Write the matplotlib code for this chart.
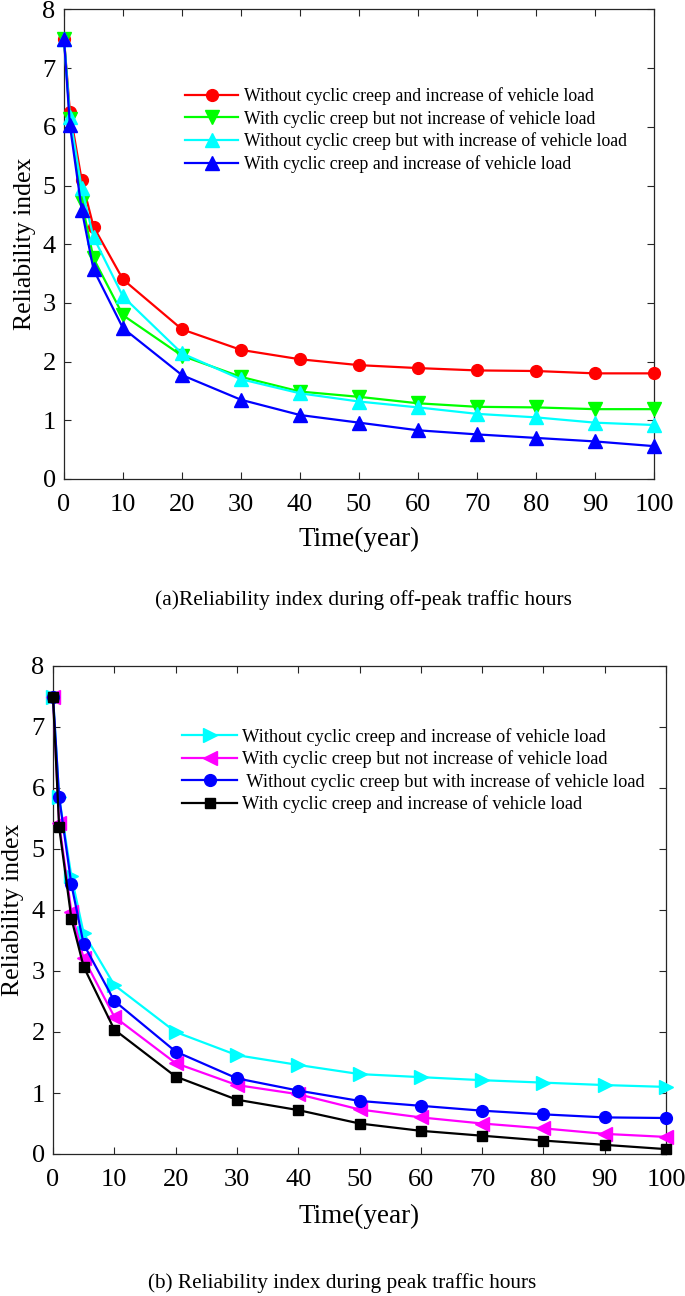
import matplotlib
matplotlib.use("Agg")
import matplotlib.pyplot as plt

plt.rcParams['font.family'] = ['Liberation Serif', 'DejaVu Serif']

years = [0, 1, 3, 5, 10, 20, 30, 40, 50, 60, 70, 80, 90, 100]

# (a) off-peak
a_labels = ["Without cyclic creep and increase of vehicle load",
            "With cyclic creep but not increase of vehicle load",
            "Without cyclic creep but with increase of vehicle load",
            "With cyclic creep and increase of vehicle load"]
a_red = [7.5, 6.26, 5.09, 4.30, 3.40, 2.55, 2.20, 2.04, 1.94, 1.89, 1.85, 1.84, 1.80, 1.80]
a_green = [7.5, 6.14, 4.72, 3.76, 2.79, 2.10, 1.74, 1.49, 1.40, 1.29, 1.23, 1.22, 1.19, 1.19]
a_cyan = [7.5, 6.17, 4.95, 4.12, 3.11, 2.14, 1.70, 1.46, 1.32, 1.22, 1.11, 1.05, 0.96, 0.92]
a_blue = [7.5, 6.03, 4.59, 3.57, 2.57, 1.77, 1.35, 1.09, 0.96, 0.83, 0.76, 0.70, 0.64, 0.56]

# (b) peak
b_labels = ["Without cyclic creep and increase of vehicle load",
            "With cyclic creep but not increase of vehicle load",
            " Without cyclic creep but with increase of vehicle load",
            "With cyclic creep and increase of vehicle load"]
b_cyan = [7.5, 5.85, 4.55, 3.62, 2.77, 2.00, 1.62, 1.46, 1.31, 1.26, 1.21, 1.17, 1.13, 1.10]
b_magenta = [7.5, 5.42, 3.97, 3.21, 2.25, 1.49, 1.13, 0.98, 0.73, 0.60, 0.50, 0.42, 0.33, 0.28]
b_blue = [7.5, 5.85, 4.42, 3.44, 2.51, 1.68, 1.24, 1.04, 0.87, 0.79, 0.71, 0.65, 0.60, 0.59]
b_black = [7.5, 5.36, 3.86, 3.07, 2.04, 1.27, 0.89, 0.72, 0.50, 0.38, 0.30, 0.22, 0.15, 0.08]

xticks = list(range(0, 101, 10))
yticks = list(range(0, 9))

W, H = 685, 1296
fig = plt.figure(figsize=(6.85, 12.96), dpi=100)
ax1 = fig.add_axes([64/W, 1-479/H, (654-64)/W, (479-9.5)/H])
ax2 = fig.add_axes([53/W, 1-1154/H, (666-53)/W, (1154-666)/H])

def style(ax, ylx):
    ax.set_xlim(0, 100)
    ax.set_ylim(0, 8)
    ax.set_xticks(xticks)
    ax.set_yticks(yticks)
    ax.tick_params(direction='in', top=True, right=True, labelsize=19,
                   length=5, width=0.8, color='#262626')
    ax.tick_params(axis='x', pad=11)
    ax.tick_params(axis='y', pad=6)
    for s in ax.spines.values():
        s.set_linewidth(0.9)
        s.set_color('#262626')
    ax.set_xlabel("Time(year)", fontsize=19.5)
    ax.set_ylabel("Reliability index", fontsize=18.5)
    ax.xaxis.label.set_va('center')
    ax.yaxis.label.set_va('center')
    ax.xaxis.set_label_coords(0.5, -0.128)
    ax.yaxis.set_label_coords(ylx, 0.5)

lw = 1.6
ms = 8.5
ax1.plot(years, a_red, '-o', color='#ff0000', lw=lw, ms=ms, label=a_labels[0], clip_on=False, zorder=3)
ax1.plot(years, a_green, '-v', color='#00ff00', lw=lw, ms=ms+1, label=a_labels[1], clip_on=False, zorder=3)
ax1.plot(years, a_cyan, '-^', color='#00ffff', lw=lw, ms=ms+1, label=a_labels[2], clip_on=False, zorder=3)
ax1.plot(years, a_blue, '-^', color='#0000ff', lw=lw, ms=ms+1, label=a_labels[3], clip_on=False, zorder=3)
style(ax1, -0.066)
ax1.legend(loc='upper left', bbox_to_anchor=(185/W, 1-87/H), bbox_transform=fig.transFigure,
           frameon=False, fontsize=12.8, borderpad=0, borderaxespad=0,
           handlelength=3.0, handletextpad=0.3, labelspacing=0.27)

ax2.plot(years, b_cyan, '->', color='#00ffff', lw=lw, ms=ms+1, label=b_labels[0], clip_on=False, zorder=3)
ax2.plot(years, b_magenta, '-<', color='#ff00ff', lw=lw, ms=ms+1, label=b_labels[1], clip_on=False, zorder=3)
ax2.plot(years, b_blue, '-o', color='#0000ff', lw=lw, ms=ms, label=b_labels[2], clip_on=False, zorder=3)
ax2.plot(years, b_black, '-s', color='#000000', lw=lw, ms=ms-1, label=b_labels[3], clip_on=False, zorder=3)
style(ax2, -0.066)
ax2.legend(loc='upper left', bbox_to_anchor=(182/W, 1-728/H), bbox_transform=fig.transFigure,
           frameon=False, fontsize=13.2, borderpad=0, borderaxespad=0,
           handlelength=3.0, handletextpad=0.3, labelspacing=0.25)

fig.text(363/W, 1-600/H, "(a)Reliability index during off-peak traffic hours",
         ha='center', va='center', fontsize=15.4)
fig.text(342/W, 1-1283/H, "(b) Reliability index during peak traffic hours",
         ha='center', va='center', fontsize=15.3)

fig.savefig("out.png", dpi=100)
